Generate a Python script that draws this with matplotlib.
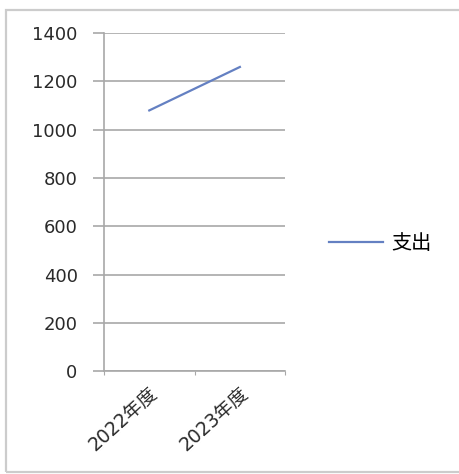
import matplotlib.pyplot as plt
from matplotlib.patches import Rectangle

# data
categories = ['2022年度', '2023年度']
spending = [1080, 1260]
series_name = '支出'
y_ticks = [0, 200, 400, 600, 800, 1000, 1200, 1400]

plt.rcParams['font.family'] = ['DejaVu Sans', 'Noto Sans CJK SC']

fig = plt.figure(figsize=(4.6, 4.74), dpi=100)
ax = fig.add_axes([0.226, 0.217, 0.394, 0.713])

# grey outer frame like an Excel chart area
fig.patches.append(Rectangle((6 / 460, 2 / 474), 1.2, 462 / 474, transform=fig.transFigure,
                             fill=False, edgecolor='#cccccc', linewidth=1.6))

x = list(range(len(categories)))
line, = ax.plot(x, spending, color='#6480c2', linewidth=1.6)

ax.set_xlim(-0.5, len(categories) - 0.5)
ax.set_ylim(0, 1400)
ax.set_yticks(y_ticks)
ax.set_yticklabels([str(v) for v in y_ticks], fontsize=13, color='#2a2a2a')
ax.yaxis.grid(True, color='#a8a8a8', linewidth=1.2)
ax.set_axisbelow(True)

# category ticks sit between the categories
ax.set_xticks([i - 0.5 for i in range(len(categories) + 1)])
ax.set_xticklabels([])
ax.set_xticks(x, minor=True)
ax.set_xticklabels(categories, minor=True, rotation=42, ha='right', rotation_mode='anchor',
                   fontsize=13.5, color='#2a2a2a', family=['DejaVu Sans', 'Noto Sans CJK SC'])
ax.tick_params(axis='x', which='minor', length=0, pad=9)
ax.tick_params(axis='x', which='major', length=3, color='#a8a8a8')
ax.tick_params(axis='y', length=8, color='#a8a8a8', width=1.2, pad=11)

for side in ['top', 'right']:
    ax.spines[side].set_visible(False)
for side in ['left', 'bottom']:
    ax.spines[side].set_color('#a8a8a8')
    ax.spines[side].set_linewidth(1.2)

fig.legend([line], [series_name], loc='center left', bbox_to_anchor=(0.676, 0.487),
           frameon=False, handlelength=2.7, handletextpad=0.4,
           prop={'family': 'Noto Sans CJK SC', 'size': 14.5})

fig.savefig('out.png', dpi=100)
